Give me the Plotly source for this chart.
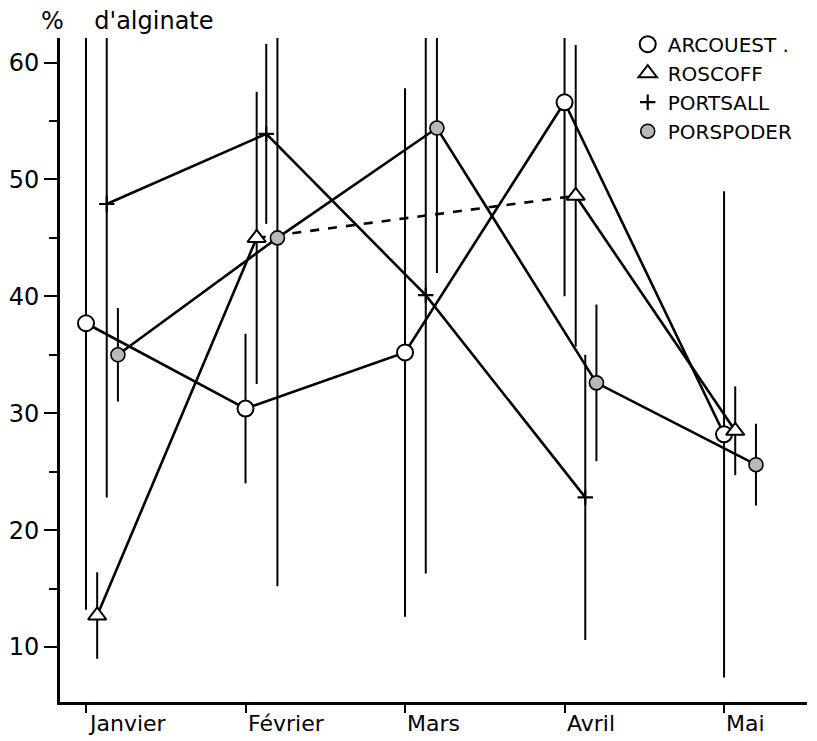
import plotly.graph_objects as go

months = ["Janvier", "Février", "Mars", "Avril", "Mai"]
y_ticks = [10, 20, 30, 40, 50, 60]

arcouest = [37.7, 30.4, 35.2, 56.6, 28.2]
arcouest_err = [24.5, 6.4, 22.6, 16.6, 20.8]

roscoff = [12.7, 45.0, None, 48.6, 28.5]
roscoff_err = [3.7, 12.5, None, 12.9, 3.8]

portsall = [47.9, 53.9, 40.1, 22.8, None]
portsall_err = [25.1, 7.7, 23.8, 12.2, None]

porspoder = [35.0, 45.0, 54.4, 32.6, 25.6]
porspoder_err = [4.0, 29.8, 12.4, 6.7, 3.5]

FONT = "DejaVu Sans, Arial, sans-serif"

series = [
    dict(name="ARCOUEST .", y=arcouest, e=arcouest_err, off=0.0,
         marker=dict(symbol="circle", size=16, color="white", line=dict(color="black", width=2))),
    dict(name="ROSCOFF", y=roscoff, e=roscoff_err, off=0.07,
         marker=dict(symbol="triangle-up", size=16, color="white", line=dict(color="black", width=2))),
    dict(name="PORTSALL", y=portsall, e=portsall_err, off=0.13,
         marker=dict(symbol="cross-thin", size=11, color="black", line=dict(color="black", width=2.2))),
    dict(name="PORSPODER", y=porspoder, e=porspoder_err, off=0.20,
         marker=dict(symbol="circle", size=14, color="#b8b8b8", line=dict(color="black", width=1.6))),
]

fig = go.Figure()

for s in series:
    xs = [i + s["off"] for i in range(len(months))]
    ys = s["y"]
    # dashed connector across a missing month
    for i in range(1, len(ys) - 1):
        if ys[i] is None and ys[i - 1] is not None and ys[i + 1] is not None:
            fig.add_trace(go.Scatter(
                x=[xs[i - 1], xs[i + 1]], y=[ys[i - 1], ys[i + 1]], mode="lines",
                line=dict(color="black", width=2.6, dash="dash"),
                showlegend=False, hoverinfo="skip"))
    fig.add_trace(go.Scatter(
        x=xs, y=ys, mode="lines+markers", connectgaps=False,
        line=dict(color="black", width=2.6),
        marker=s["marker"],
        error_y=dict(type="data", array=s["e"], symmetric=True, visible=True,
                     color="black", thickness=2, width=0),
        showlegend=False, hoverinfo="skip"))

for s in series:
    fig.add_trace(go.Scatter(x=[None], y=[None], mode="markers", name=s["name"],
                             marker=s["marker"], showlegend=True))

annotations = []
for i, m in enumerate(months):
    annotations.append(dict(x=i, y=-0.01, xref="x", yref="paper", text=m,
                            showarrow=False, xanchor="left", yanchor="top",
                            font=dict(family=FONT, size=22, color="black")))
annotations.append(dict(x=-0.028, y=1.026, xref="paper", yref="paper",
                        text="%" + "\u00a0" * 4 + "d'alginate",
                        showarrow=False, xanchor="left", yanchor="middle",
                        font=dict(family=FONT, size=24, color="black")))

fig.update_layout(
    width=817, height=741,
    margin=dict(l=52, r=18, t=30, b=47, autoexpand=False),
    paper_bgcolor="white", plot_bgcolor="white",
    font=dict(family=FONT, color="black"),
    annotations=annotations,
    legend=dict(x=0.76, y=1.02, xanchor="left", yanchor="top",
                bgcolor="rgba(0,0,0,0)", font=dict(family=FONT, size=20, color="black"),
                itemwidth=30, tracegroupgap=0),
    xaxis=dict(range=[-0.163, 4.52], tickvals=list(range(len(months))), ticktext=[""] * len(months),
               automargin=False,
               showgrid=False, zeroline=False, showline=True, linecolor="black", linewidth=3,
               ticks="outside", ticklen=8, tickwidth=2, tickcolor="black"),
    yaxis=dict(range=[5.3, 62.1], tickvals=y_ticks, ticktext=[str(v) for v in y_ticks],
               automargin=False,
               showgrid=False, zeroline=False, showline=True, linecolor="black", linewidth=3,
               ticks="outside", ticklen=13, tickwidth=2, tickcolor="black",
               tickfont=dict(family=FONT, size=24, color="black"),
               minor=dict(dtick=5, tick0=0, ticks="outside", ticklen=8, tickwidth=2,
                          tickcolor="black", showgrid=False)),
)

fig.write_html("out.html")
